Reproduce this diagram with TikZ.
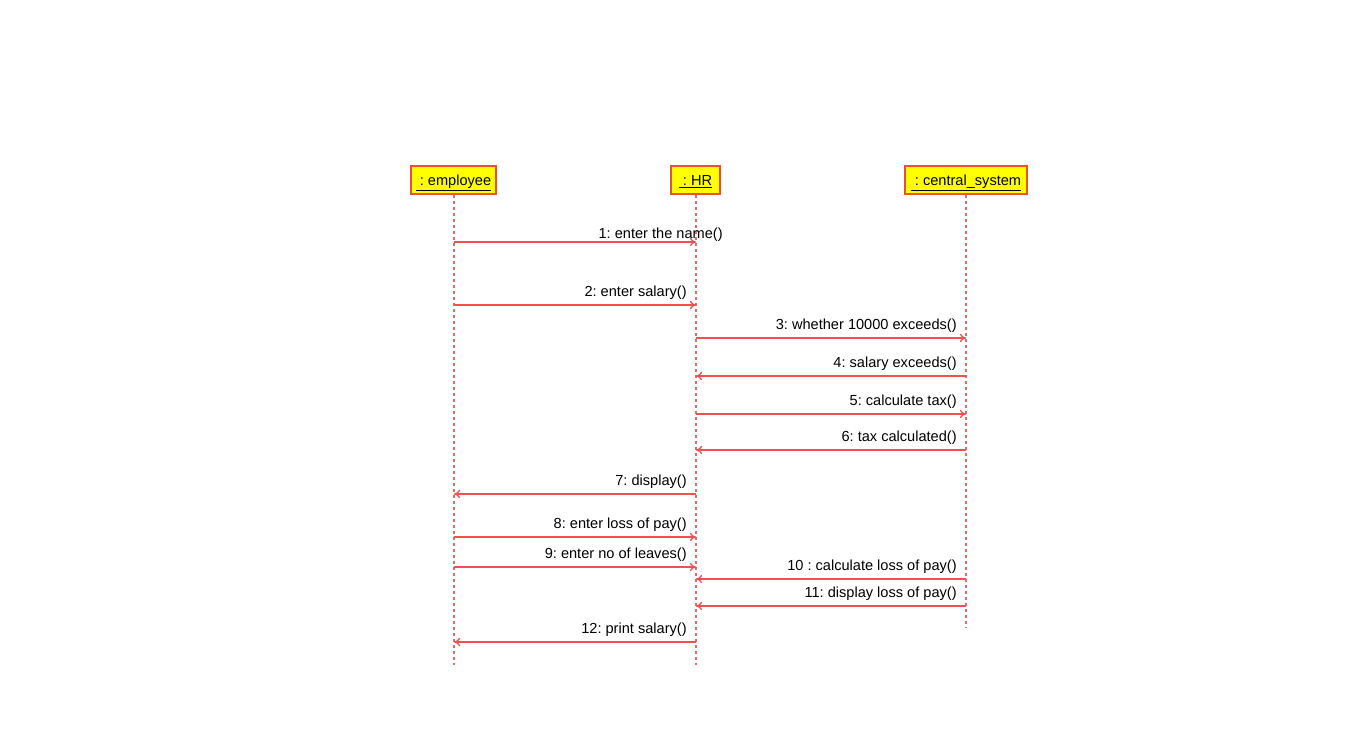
\documentclass[tikz,border=0pt]{standalone}
\usepackage{fontspec}
\setmainfont{Liberation Sans}
\usetikzlibrary{arrows.meta}
\definecolor{msgred}{RGB}{240,80,80}
\definecolor{lifered}{RGB}{225,110,110}
\definecolor{boxedge}{RGB}{240,80,40}
\definecolor{boxfill}{RGB}{255,255,0}
\tikzset{
  objbox/.style={draw=boxedge, fill=boxfill, line width=0.9pt, minimum height=0.56cm, inner sep=0pt, text depth=0pt, font=\fontsize{8.3}{10}\selectfont},
  lifeline/.style={lifered, line width=0.7pt, dash pattern=on 0.07cm off 0.05cm},
  msg/.style={msgred, line width=0.75pt, -{To[length=0.12cm,width=0.16cm]}},
  lbl/.style={anchor=base east, inner sep=0pt, font=\fontsize{8.3}{10}\selectfont}
}
\frenchspacing
\begin{document}
\begin{tikzpicture}[x=0.02cm, y=-0.02cm]
  \useasboundingbox (0,0) rectangle (1369,752);
  % objects
  \node[objbox, minimum width=1.7cm] (emp) at (453.5,180) {\underline{\ : employee}};
  \node[objbox, minimum width=0.98cm] (hr) at (695.5,180) {\underline{\ : HR}};
  \node[objbox, minimum width=2.44cm] (cs) at (966,180) {\underline{\ : central\_system}};
  % lifelines
  \coordinate (empend) at (454,665);
  \coordinate (hrend) at (696,665);
  \coordinate (csend) at (966,628);
  \draw[lifeline] (emp.south -| empend) -- (empend);
  \draw[lifeline] (hr.south -| hrend) -- (hrend);
  \draw[lifeline] (cs.south -| csend) -- (csend);
  % message heights
  \coordinate (y1) at (0,242);
  \coordinate (y2) at (0,305);
  \coordinate (y3) at (0,338);
  \coordinate (y4) at (0,376);
  \coordinate (y5) at (0,414);
  \coordinate (y6) at (0,450);
  \coordinate (y7) at (0,494);
  \coordinate (y8) at (0,537);
  \coordinate (y9) at (0,567);
  \coordinate (y10) at (0,579);
  \coordinate (y11) at (0,606);
  \coordinate (y12) at (0,642);
  % messages
  \draw[msg] (empend |- y1) -- (hrend |- y1);
  \node[lbl] (l1) at (723,238) {1: enter the name()};
  \draw[msg] (empend |- y2) -- (hrend |- y2);
  \node[lbl] (l2) at (687,296.5) {2: enter salary()};
  \draw[msg] (hrend |- y3) -- (csend |- y3);
  \node[lbl] (l3) at (957,329.5) {3: whether 10000 exceeds()};
  \draw[msg] (csend |- y4) -- (hrend |- y4);
  \node[lbl] (l4) at (957,367.5) {4: salary exceeds()};
  \draw[msg] (hrend |- y5) -- (csend |- y5);
  \node[lbl] (l5) at (957,405.5) {5: calculate tax()};
  \draw[msg] (csend |- y6) -- (hrend |- y6);
  \node[lbl] (l6) at (957,441.5) {6: tax calculated()};
  \draw[msg] (hrend |- y7) -- (empend |- y7);
  \node[lbl] (l7) at (687,485.5) {7: display()};
  \draw[msg] (empend |- y8) -- (hrend |- y8);
  \node[lbl] (l8) at (687,528.5) {8: enter loss of pay()};
  \draw[msg] (empend |- y9) -- (hrend |- y9);
  \node[lbl] (l9) at (687,558.5) {9: enter no of leaves()};
  \draw[msg] (csend |- y10) -- (hrend |- y10);
  \node[lbl] (l10) at (957,570.5) {10 : calculate loss of pay()};
  \draw[msg] (csend |- y11) -- (hrend |- y11);
  \node[lbl] (l11) at (957,597.5) {11: display loss of pay()};
  \draw[msg] (hrend |- y12) -- (empend |- y12);
  \node[lbl] (l12) at (687,633.5) {12: print salary()};
\end{tikzpicture}
\end{document}
